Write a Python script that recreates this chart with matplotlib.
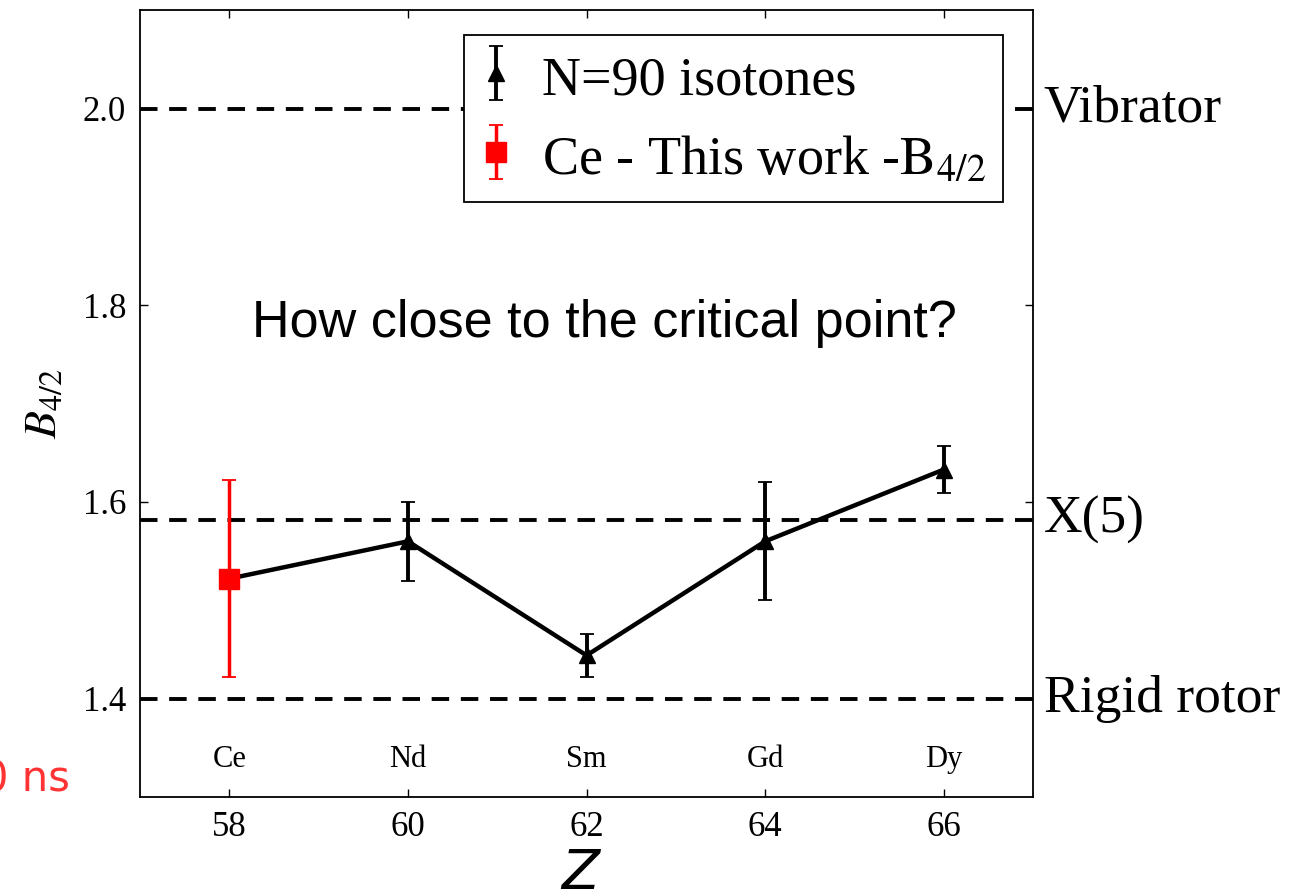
import matplotlib
matplotlib.use("Agg")
import matplotlib.pyplot as plt
import numpy as np

plt.rcParams['mathtext.fontset'] = 'stix'
plt.rcParams['font.family'] = 'Liberation Serif'

# data
Z = [58, 60, 62, 64, 66]
elements = ['Ce', 'Nd', 'Sm', 'Gd', 'Dy']
B42 = [1.522, 1.560, 1.444, 1.560, 1.633]
B42_err = [0.10, 0.04, 0.022, 0.06, 0.024]

# reference limits
ref_vals = [2.0, 1.582, 1.4]
ref_names = ['Vibrator', 'X(5)', 'Rigid rotor']

fig = plt.figure(figsize=(13, 8.94), dpi=100)
ax = fig.add_axes([0.1077, 0.1085, 0.687, 0.880])

for v in ref_vals:
    ax.axhline(v, color='black', lw=2.8, ls=(0, (4.5, 3)), zorder=1)

# line through all points
ax.plot(Z, B42, color='black', lw=3.2, zorder=2)
ax.errorbar(Z[1:], B42[1:], yerr=B42_err[1:], fmt='^', color='black', ms=12,
            elinewidth=2.8, capsize=5, capthick=1.3, label='N=90 isotones', zorder=3)
ax.errorbar(Z[:1], B42[:1], yerr=B42_err[:1], fmt='s', color='red', ms=15,
            elinewidth=2.5, capsize=5, capthick=1.3,
            label=r'Ce - This work -$\mathrm{B}_{4/2}$', zorder=4)

for z, el in zip(Z, elements):
    ax.text(z, 1.338, el, ha='center', va='center', fontsize=22)

ax.set_xlim(57, 67)
ax.set_ylim(1.3, 2.1)
ax.set_xticks(Z)
ax.set_yticks([1.4, 1.6, 1.8, 2.0])
ax.set_yticklabels(['1.4', '1.6', '1.8', '2.0'])
ax.tick_params(direction='in', length=6, width=1, labelsize=25,
               top=True, right=True, pad=10)
for s in ax.spines.values():
    s.set_linewidth(1.3)

for v, name in zip(ref_vals, ref_names):
    ax.text(67.12, v, name, ha='left', va='center', fontsize=38.5,
            clip_on=False)

ax.text(62.2, 1.781, 'How close to the critical point?', ha='center', va='center',
        fontsize=37.5, family='Liberation Sans')

ax.set_ylabel(r'$B_{4/2}$', fontsize=33, labelpad=12)
fig.text(0.446, 0.006, 'Z', ha='center', va='baseline', fontsize=40,
         family='DejaVu Sans', style='italic')

leg = ax.legend(loc='upper right', bbox_to_anchor=(0.966, 0.968), fontsize=39,
                frameon=True, fancybox=False, edgecolor='black', framealpha=1,
                handlelength=0.6, handleheight=1.0, handletextpad=0.55,
                borderpad=0.3, labelspacing=0.45, borderaxespad=0)
leg.get_frame().set_linewidth(1.3)

fig.text(0.054, 0.128, '0 ns', ha='right', va='center', fontsize=30,
         color='#ff3333', family='DejaVu Sans')

fig.savefig('out.png', dpi=100)
